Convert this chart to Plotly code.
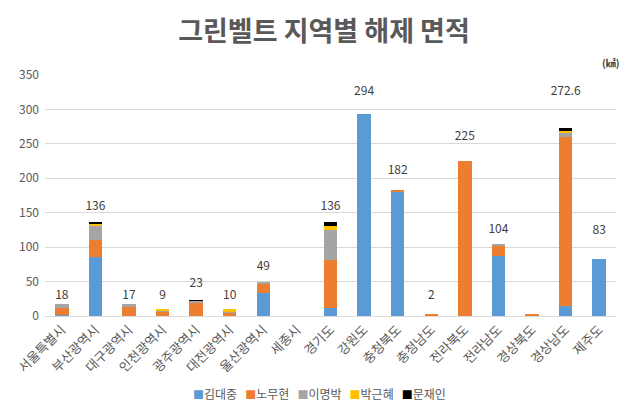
import plotly.graph_objects as go

regions = ["서울특별시", "부산광역시", "대구광역시", "인천광역시", "광주광역시", "대전광역시",
           "울산광역시", "세종시", "경기도", "강원도", "충청북도", "충청남도", "전라북도",
           "전라남도", "경상북도", "경상남도", "제주도"]

kim_dj = [1.5, 86, 0, 0, 0, 0, 34, 0, 12, 294, 180.5, 0, 0, 87.5, 0, 14.5, 83]
roh_mh = [10, 25, 13, 6, 19.5, 4.5, 13, 0, 70, 0, 1.5, 2, 225, 14.5, 3, 246, 0]
lee_mb = [6.5, 20, 4, 1.5, 3, 1.5, 2, 0, 43, 0, 0, 0, 0, 2, 0, 6, 0]
park_gh = [0, 3, 0, 1.5, 0.3, 4, 0, 0, 5, 0, 0, 0, 0, 0, 0, 2.5, 0]
moon_ji = [0, 2, 0, 0, 0.2, 0, 0, 0, 6, 0, 0, 0, 0, 0, 0, 3.6, 0]

total_labels = ["18", "136", "17", "9", "23", "10", "49", "", "136", "294", "182", "2",
                "225", "104", "", "272.6", "83"]
label_y = [29, 159, 29, 29, 46, 29, 71, None, 159, 325, 211, 29, 260, 125.5, None, 325, 124]

series = [
    ("김대중", kim_dj, "#5B9BD5"),
    ("노무현", roh_mh, "#ED7D31"),
    ("이명박", lee_mb, "#A5A5A5"),
    ("박근혜", park_gh, "#FFC000"),
    ("문재인", moon_ji, "#000000"),
]

FONT = "Noto Sans CJK KR"

fig = go.Figure()
for name, vals, color in series:
    fig.add_trace(go.Bar(
        x=regions, y=vals, name=name,
        marker=dict(color=color, line=dict(width=0)),
        hoverinfo="skip", showlegend=False,
    ))

fig.add_trace(go.Scatter(
    x=regions, y=label_y, text=total_labels, mode="text",
    textposition="middle center",
    textfont=dict(family=FONT, size=12, color="#404040"),
    showlegend=False, hoverinfo="skip",
))

legend_text = "&nbsp;&nbsp;&nbsp;".join(
    f"<span style='color:{c};font-size:11px'>■</span>{n}" for n, _, c in series
)

fig.update_layout(
    barmode="stack",
    bargap=0.6,
    width=632, height=406,
    paper_bgcolor="white", plot_bgcolor="white",
    margin=dict(l=37, r=24, t=67, b=98),
    font=dict(family=FONT, color="#595959"),
    title=dict(text="<b>그린벨트 지역별 해제 면적</b>", x=0.5, xanchor="center",
               y=0.941, yanchor="middle",
               font=dict(family=FONT, size=27, color="#595959")),
    showlegend=False,
    xaxis=dict(tickangle=-45, tickfont=dict(family=FONT, size=13, color="#595959"),
               range=[-0.5, len(regions) - 0.5],
               showline=True, linecolor="#D9D9D9", linewidth=1, showgrid=False,
               ticks="", fixedrange=True, automargin=False),
    yaxis=dict(range=[0, 350], dtick=50, tickfont=dict(family=FONT, size=12, color="#595959"),
               showgrid=True, gridcolor="#D9D9D9", gridwidth=1, zeroline=False,
               showline=False, ticks="", fixedrange=True, automargin=False,
               ticklabelstandoff=5),
    annotations=[
        dict(text="<b>(㎢)</b>", xref="paper", yref="paper", x=1.01, y=1.05,
             xanchor="right", yanchor="middle", showarrow=False,
             font=dict(family=FONT, size=10, color="#404040")),
        dict(text=legend_text, xref="paper", yref="paper", x=0.48, y=-0.32,
             xanchor="center", yanchor="middle", showarrow=False,
             font=dict(family=FONT, size=12, color="#595959")),
    ],
)

fig.write_html("out.html")
